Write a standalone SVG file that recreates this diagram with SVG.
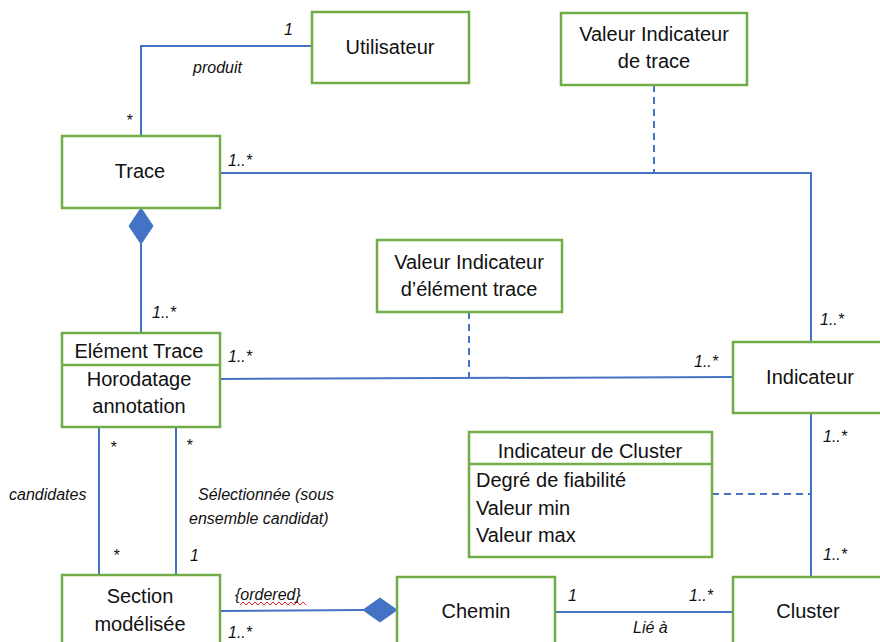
<svg xmlns="http://www.w3.org/2000/svg" width="880" height="642" viewBox="0 0 880 642">
<style>
.box{fill:#fff;stroke:#70AD47;stroke-width:2.5}
.t{font-family:"Liberation Sans",Arial,sans-serif;font-size:20px;fill:#111;text-anchor:middle}
.a{font-family:"Liberation Sans",Arial,sans-serif;font-size:20px;fill:#111}
.l{font-family:"Liberation Sans",Arial,sans-serif;font-size:16px;font-style:italic;fill:#111}
.c{fill:none;stroke:#4472C4;stroke-width:2}
.d{fill:none;stroke:#4472C4;stroke-width:2;stroke-dasharray:7 5}
.dm{fill:#4472C4;stroke:#4472C4;stroke-width:1}
</style>
<rect width="880" height="642" fill="#fff"/>
<g id="connectors">
  <polyline class="c" points="141,136 141,46 312,46"/>
  <polyline class="c" points="220,173 811,173 811,342"/>
  <line class="d" x1="654" y1="85" x2="654" y2="173"/>
  <line class="c" x1="141" y1="244" x2="141" y2="333"/>
  <polygon class="dm" points="141,208 153,226 141,244 129,226"/>
  <line class="c" x1="220" y1="379" x2="733" y2="377"/>
  <line class="d" x1="469" y1="312" x2="469" y2="378"/>
  <line class="c" x1="811" y1="413" x2="811" y2="577"/>
  <line class="d" x1="712" y1="494" x2="811" y2="494"/>
  <line class="c" x1="99" y1="427" x2="99" y2="575"/>
  <line class="c" x1="176" y1="427" x2="176" y2="575"/>
  <line class="c" x1="220" y1="611" x2="364" y2="610"/>
  <polygon class="dm" points="363,610 380,598 397,610 380,622"/>
  <line class="c" x1="555" y1="612" x2="733" y2="612"/>
  <path d="M240,605 l3,-3 3,3 3,-3 3,3 3,-3 3,3 3,-3 3,3 3,-3 3,3 3,-3 3,3 3,-3 3,3 3,-3 3,3 3,-3 3,3 3,-3 3,3 3,-3 3,3" fill="none" stroke="#e02020" stroke-width="1"/>
  <text class="l" x="284" y="35">1</text>
  <text class="l" x="193" y="73">produit</text>
  <text class="l" x="126" y="126">*</text>
  <text class="l" x="228" y="166">1..*</text>
  <text class="l" x="152" y="318">1..*</text>
  <text class="l" x="228" y="362">1..*</text>
  <text class="l" x="694" y="367">1..*</text>
  <text class="l" x="820" y="325">1..*</text>
  <text class="l" x="823" y="442">1..*</text>
  <text class="l" x="823" y="560">1..*</text>
  <text class="l" x="110" y="453">*</text>
  <text class="l" x="186" y="451">*</text>
  <text class="l" x="9" y="500">candidates</text>
  <text class="l" x="198" y="500">Sélectionnée (sous</text>
  <text class="l" x="189" y="524">ensemble candidat)</text>
  <text class="l" x="113" y="561">*</text>
  <text class="l" x="190" y="561">1</text>
  <text class="l" x="235" y="600">{ordered}</text>
  <text class="l" x="228" y="638">1..*</text>
  <text class="l" x="568" y="601">1</text>
  <text class="l" x="689" y="601">1..*</text>
  <text class="l" x="633" y="633">Lié à</text>
</g>
<g id="utilisateur">
  <rect class="box" x="312" y="12" width="157" height="71"/>
  <text class="t" x="390" y="54">Utilisateur</text>
</g>
<g id="valeur-indicateur-trace">
  <rect class="box" x="561" y="13" width="186" height="72"/>
  <text class="t" x="654" y="41">Valeur Indicateur</text>
  <text class="t" x="654" y="68">de trace</text>
</g>
<g id="trace">
  <rect class="box" x="62" y="136" width="158" height="72"/>
  <text class="t" x="140" y="178">Trace</text>
</g>
<g id="valeur-indicateur-element">
  <rect class="box" x="377" y="240" width="185" height="72"/>
  <text class="t" x="469" y="269">Valeur Indicateur</text>
  <text class="t" x="469" y="296">d’élément trace</text>
</g>
<g id="element-trace">
  <rect class="box" x="62" y="333" width="158" height="94"/>
  <line x1="62" y1="365" x2="220" y2="365" stroke="#70AD47" stroke-width="2.5"/>
  <text class="t" x="139" y="358">Elément Trace</text>
  <text class="t" x="139" y="386">Horodatage</text>
  <text class="t" x="139" y="413">annotation</text>
</g>
<g id="indicateur">
  <rect class="box" x="733" y="342" width="160" height="71"/>
  <text class="t" x="810" y="384">Indicateur</text>
</g>
<g id="indicateur-cluster">
  <rect class="box" x="469" y="432" width="243" height="125"/>
  <line x1="469" y1="464" x2="712" y2="464" stroke="#70AD47" stroke-width="2.5"/>
  <text class="t" x="590" y="458">Indicateur de Cluster</text>
  <text class="a" x="476" y="487">Degré de fiabilité</text>
  <text class="a" x="476" y="515">Valeur min</text>
  <text class="a" x="476" y="542">Valeur max</text>
</g>
<g id="section">
  <rect class="box" x="62" y="575" width="158" height="80"/>
  <text class="t" x="140" y="603">Section</text>
  <text class="t" x="140" y="631">modélisée</text>
</g>
<g id="chemin">
  <rect class="box" x="397" y="577" width="158" height="80"/>
  <text class="t" x="476" y="618">Chemin</text>
</g>
<g id="cluster">
  <rect class="box" x="733" y="577" width="160" height="80"/>
  <text class="t" x="808" y="618">Cluster</text>
</g>
</svg>
